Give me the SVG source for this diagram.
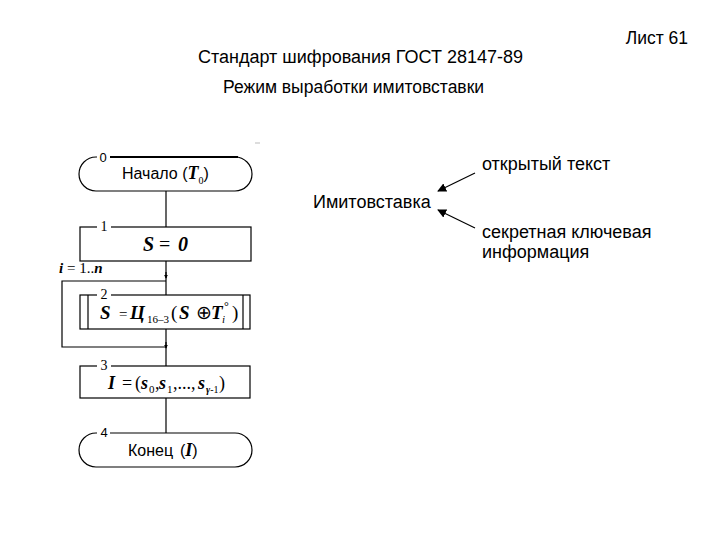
<svg xmlns="http://www.w3.org/2000/svg" width="720" height="540" viewBox="0 0 720 540">
<defs>
<style>
.sans{font-family:"Liberation Sans",Arial,sans-serif;fill:#000}
.serif{font-family:"Liberation Serif","Times New Roman",serif;fill:#000}
.bi{font-weight:bold;font-style:italic}
.box{fill:#fff;stroke:#000;stroke-width:1.2}
.ln{fill:none;stroke:#000;stroke-width:1.2}
.lbl{fill:#fff;stroke:none}
</style>
<marker id="ah" viewBox="0 0 10 10" refX="9" refY="5" markerWidth="9" markerHeight="9" orient="auto" markerUnits="userSpaceOnUse">
<path d="M0,0 L10,5 L0,10 z" fill="#000"/>
</marker>
<marker id="sm" viewBox="0 0 6 6" refX="5" refY="3" markerWidth="4" markerHeight="4" orient="auto" markerUnits="userSpaceOnUse">
<path d="M0,0 L6,3 L0,6 z" fill="#000"/>
</marker>
</defs>
<rect width="720" height="540" fill="#fff"/>

<g id="header">
<text class="sans" x="688" y="44" font-size="17.5" text-anchor="end">Лист 61</text>
<text class="sans" x="198" y="63" font-size="18">Стандарт шифрования ГОСТ 28147-89</text>
<text class="sans" x="223" y="93" font-size="17.5">Режим выработки имитовставки</text>
<line x1="255" y1="143" x2="260" y2="143" stroke="#bbb" stroke-width="1"/>
</g>

<g id="connectors">
<line class="ln" x1="166" y1="191" x2="166" y2="227"/>
<line class="ln" x1="166" y1="261" x2="166" y2="295"/>
<line class="ln" x1="166" y1="329" x2="166" y2="366"/>
<line class="ln" x1="166" y1="398" x2="166" y2="433"/>
<path class="ln" d="M166,281 H62 V347 H166"/>
<line class="ln" x1="166" y1="272" x2="166" y2="278" marker-end="url(#sm)"/>
<line class="ln" x1="166" y1="342" x2="166" y2="348" marker-end="url(#sm)"/>
<line class="ln" x1="475" y1="173" x2="438" y2="191" marker-end="url(#ah)"/>
<line class="ln" x1="475" y1="228" x2="438" y2="210" marker-end="url(#ah)"/>
</g>

<g id="node0">
<rect class="box" x="79" y="157" width="173" height="34" rx="17" ry="17"/>
<line x1="110" y1="157" x2="238" y2="157" stroke="#000" stroke-width="2.2"/>
<rect class="lbl" x="97" y="150" width="13" height="12"/>
<text class="sans" x="103" y="162" font-size="13" text-anchor="middle">0</text>
<text class="sans" x="122" y="179" font-size="16">Начало (<tspan class="serif bi" font-size="18">T</tspan><tspan class="serif" font-size="10" dy="5">0</tspan><tspan dy="-5">)</tspan></text>
</g>

<g id="node1">
<rect class="box" x="80" y="227" width="171" height="34"/>
<rect class="lbl" x="97" y="220" width="14" height="12"/>
<text class="serif" x="104" y="231" font-size="14" text-anchor="middle">1</text>
<text class="serif bi" y="251" font-size="20"><tspan x="143">S</tspan><tspan x="159" font-weight="normal" font-style="normal">=</tspan><tspan x="178">0</tspan></text>
</g>

<g id="loop">
<text class="serif" x="59" y="273" font-size="15"><tspan class="bi">i</tspan> = 1..<tspan class="bi">n</tspan></text>
</g>

<g id="node2">
<rect class="box" x="80" y="295" width="170" height="34"/>
<line class="ln" x1="88" y1="295" x2="88" y2="329"/>
<line class="ln" x1="243" y1="295" x2="243" y2="329"/>
<rect class="lbl" x="97" y="288" width="14" height="12"/>
<text class="serif" x="104" y="299" font-size="14" text-anchor="middle">2</text>
<text class="serif" y="319" font-size="19"><tspan class="bi" x="100">S</tspan><tspan x="119" font-size="15">=</tspan><tspan class="bi" x="130">Ц</tspan><tspan x="147" dy="4" font-size="11">16–3</tspan><tspan x="171" dy="-4">(</tspan><tspan class="bi" x="179">S</tspan><tspan x="196">⊕</tspan><tspan class="bi" x="211">T</tspan><tspan x="222" dy="4" font-size="11" font-style="italic">i</tspan><tspan x="224" dy="-13" font-size="12">°</tspan><tspan x="232" dy="9">)</tspan></text>
</g>

<g id="node3">
<rect class="box" x="80" y="366" width="170" height="32"/>
<rect class="lbl" x="97" y="359" width="14" height="12"/>
<text class="serif" x="104" y="370" font-size="14" text-anchor="middle">3</text>
<text class="serif" y="389" font-size="18"><tspan class="bi" x="108">I</tspan><tspan x="122">=</tspan><tspan x="135">(</tspan><tspan class="bi" x="141">s</tspan><tspan x="149" dy="4" font-size="11">0</tspan><tspan x="155" dy="-4">,</tspan><tspan class="bi" x="159">s</tspan><tspan x="167" dy="4" font-size="11">1</tspan><tspan x="173" dy="-4">,...,</tspan><tspan class="bi" x="198">s</tspan><tspan x="206" dy="4" font-size="10" font-weight="bold" font-style="italic">γ</tspan><tspan font-size="10">-1</tspan><tspan x="219" dy="-4">)</tspan></text>
</g>

<g id="node4">
<rect class="box" x="79" y="433" width="173" height="34" rx="17" ry="17"/>
<rect class="lbl" x="97" y="426" width="13" height="12"/>
<text class="sans" x="104" y="437" font-size="13" text-anchor="middle">4</text>
<text class="sans" y="456" font-size="16"><tspan x="128">Конец</tspan><tspan x="180">(</tspan><tspan class="serif bi" font-size="18">I</tspan><tspan>)</tspan></text>
</g>

<g id="right">
<text class="sans" x="313" y="208" font-size="18">Имитовставка</text>
<text class="sans" x="482" y="170" font-size="18">открытый текст</text>
<text class="sans" x="482" y="238" font-size="18">секретная ключевая</text>
<text class="sans" x="482" y="258" font-size="18">информация</text>
</g>
</svg>
